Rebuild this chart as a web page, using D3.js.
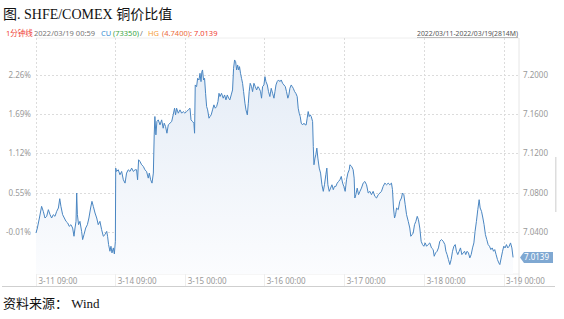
<!DOCTYPE html>
<html>
<head>
<meta charset="utf-8">
<script src="https://cdn.jsdelivr.net/npm/d3@7"></script>
<style>
  body { margin: 0; background: #fff; }
  svg { display: block; }
</style>
</head>
<body>
<div id="chart"></div>
<script>
// SHFE/COMEX copper price ratio, 1-minute bars, 2022/03/11 - 2022/03/19.

// minute index (trading minutes since 3-11 09:00)
const minuteIdx = [
  0, 8, 20, 33, 43, 53, 63, 73, 83, 92, 102, 112, 122, 132, 140, 147, 157, 167, 177, 187,
  196, 206, 216, 224, 230, 236, 240, 244, 251, 259, 269, 275, 283, 293, 303, 312, 322, 330, 338, 348,
  358, 367, 377, 387, 397, 407, 417, 422, 428, 436, 442, 448, 456, 462, 468, 470, 475, 485, 495, 505,
  515, 525, 534, 544, 554, 564, 574, 584, 593, 599, 605, 613, 623, 633, 642, 652, 662, 668, 676, 684,
  692, 697, 701, 707, 713, 721, 731, 741, 750, 756, 764, 772, 780, 790, 800, 809, 817, 823, 829, 839,
  849, 859, 868, 878, 888, 898, 908, 914, 923, 931, 935, 939, 947, 953, 961, 967, 973, 978, 982, 988,
  994, 1000, 1006, 1012, 1020, 1026, 1033, 1041, 1049, 1057, 1065, 1073, 1079, 1085, 1094, 1104, 1112, 1120, 1128, 1136,
  1143, 1151, 1159, 1165, 1171, 1177, 1183, 1189, 1195, 1200, 1206, 1212, 1218, 1224, 1232, 1238, 1246, 1252, 1257, 1263,
  1271, 1277, 1285, 1293, 1301, 1309, 1316, 1324, 1330, 1336, 1344, 1350, 1356, 1364, 1371, 1379, 1387, 1395, 1403, 1409,
  1415, 1422, 1430, 1438, 1446, 1454, 1462, 1470, 1477, 1485, 1491, 1497, 1505, 1511, 1517, 1525, 1532, 1540, 1546, 1552,
  1558, 1564, 1572, 1580, 1587, 1593, 1599, 1605, 1611, 1617, 1623, 1631, 1635, 1639, 1645, 1650, 1656, 1662, 1670, 1678,
  1686, 1694, 1701, 1709, 1715, 1721, 1729, 1737, 1745, 1753, 1760, 1768, 1776, 1784, 1792, 1800, 1808, 1815, 1823, 1831,
  1839, 1847, 1851, 1861, 1870, 1876, 1880, 1886, 1894, 1902, 1910, 1919, 1929, 1939, 1949, 1959, 1969, 1978, 1988, 1998,
  2008, 2018, 2028, 2037, 2047, 2057, 2067, 2077, 2086, 2096, 2102, 2108, 2114, 2120, 2126, 2136, 2145, 2155, 2161, 2169,
  2177, 2185, 2195, 2204, 2210, 2218, 2224, 2232, 2240, 2248, 2255, 2263, 2271, 2279, 2287, 2295, 2303, 2312, 2322, 2332,
  2342, 2348, 2356, 2365, 2373, 2381, 2391, 2401, 2411, 2417, 2424, 2432, 2440, 2448, 2456, 2464, 2472, 2479, 2487, 2495,
  2503, 2511, 2519, 2527, 2534, 2542, 2550, 2558, 2566, 2574, 2582, 2589, 2597, 2605, 2613, 2619, 2627, 2635, 2642, 2650,
  2658, 2666, 2674, 2682, 2690, 2698, 2705, 2713, 2721, 2729, 2735, 2743, 2751, 2758, 2766, 2774, 2782, 2790, 2798, 2806,
  2813
];

// SHFE CU / COMEX HG ratio at each minute above
const ratioVal = [
  7.0388, 7.0439, 7.0541, 7.0660, 7.0609, 7.0541, 7.0558, 7.0626, 7.0575, 7.0541, 7.0575, 7.0558, 7.0609, 7.0643, 7.0738, 7.0660, 7.0575, 7.0541, 7.0507, 7.0490,
  7.0456, 7.0473, 7.0439, 7.0355, 7.0439, 7.0507, 7.0796, 7.0575, 7.0473, 7.0507, 7.0405, 7.0321, 7.0372, 7.0439, 7.0473, 7.0541, 7.0643, 7.0711, 7.0660, 7.0592,
  7.0541, 7.0473, 7.0507, 7.0422, 7.0355, 7.0372, 7.0405, 7.0355, 7.0270, 7.0202, 7.0253, 7.0185, 7.0236, 7.0175, 7.0304, 7.1050, 7.1016, 7.1033, 7.0982, 7.1016,
  7.0931, 7.0897, 7.0999, 7.1033, 7.1016, 7.1050, 7.1016, 7.1033, 7.1033, 7.0931, 7.1135, 7.1118, 7.1084, 7.1067, 7.1033, 7.1016, 7.0948, 7.0999, 7.0931, 7.0897,
  7.0999, 7.1389, 7.1576, 7.1389, 7.1525, 7.1542, 7.1491, 7.1542, 7.1457, 7.1508, 7.1474, 7.1406, 7.1491, 7.1508, 7.1525, 7.1593, 7.1661, 7.1593, 7.1661, 7.1610,
  7.1644, 7.1610, 7.1627, 7.1610, 7.1627, 7.1644, 7.1661, 7.1542, 7.1525, 7.1508, 7.1406, 7.1898, 7.1881, 7.1966, 7.1949, 7.2017, 7.1932, 7.2034, 7.2051, 7.1949,
  7.1966, 7.1813, 7.1678, 7.1644, 7.1559, 7.1576, 7.1593, 7.1644, 7.1695, 7.1661, 7.1678, 7.1729, 7.1813, 7.1780, 7.1813, 7.1763, 7.1796, 7.1746, 7.1796, 7.1763,
  7.1746, 7.1796, 7.1847, 7.2068, 7.2153, 7.2136, 7.2051, 7.2102, 7.2051, 7.2085, 7.2017, 7.1966, 7.1915, 7.1830, 7.1712, 7.1644, 7.1593, 7.1712, 7.1830, 7.1915,
  7.1881, 7.1830, 7.1915, 7.1881, 7.1847, 7.1881, 7.1864, 7.1830, 7.1763, 7.1881, 7.1898, 7.1983, 7.1932, 7.1898, 7.1830, 7.1780, 7.1864, 7.1813, 7.1763, 7.1830,
  7.1898, 7.1932, 7.1949, 7.1932, 7.1949, 7.1915, 7.1898, 7.1881, 7.1830, 7.1763, 7.1796, 7.1864, 7.1898, 7.1881, 7.1864, 7.1830, 7.1813, 7.1780, 7.1661, 7.1610,
  7.1576, 7.1508, 7.1491, 7.1508, 7.1491, 7.1491, 7.1559, 7.1627, 7.1576, 7.1593, 7.1576, 7.1525, 7.1271, 7.1084, 7.1152, 7.1186, 7.1254, 7.1152, 7.1050, 7.0999,
  7.0880, 7.0813, 7.0880, 7.0982, 7.1050, 7.0880, 7.0813, 7.0846, 7.0880, 7.0830, 7.0863, 7.0863, 7.0897, 7.0914, 7.0931, 7.0965, 7.0897, 7.0863, 7.0813, 7.0931,
  7.0999, 7.1033, 7.1084, 7.1067, 7.1033, 7.0948, 7.0745, 7.0779, 7.0846, 7.0779, 7.0813, 7.0846, 7.0897, 7.0914, 7.0880, 7.0796, 7.0813, 7.0779, 7.0813, 7.0762,
  7.0745, 7.0779, 7.0796, 7.0813, 7.0863, 7.0897, 7.0880, 7.0897, 7.0880, 7.0897, 7.0830, 7.0643, 7.0541, 7.0575, 7.0643, 7.0626, 7.0711, 7.0745, 7.0796, 7.0779,
  7.0677, 7.0575, 7.0507, 7.0439, 7.0355, 7.0372, 7.0388, 7.0473, 7.0507, 7.0558, 7.0524, 7.0439, 7.0304, 7.0270, 7.0253, 7.0287, 7.0253, 7.0270, 7.0287, 7.0236,
  7.0219, 7.0151, 7.0185, 7.0202, 7.0236, 7.0304, 7.0321, 7.0304, 7.0270, 7.0202, 7.0168, 7.0117, 7.0066, 7.0117, 7.0202, 7.0253, 7.0270, 7.0202, 7.0168, 7.0202,
  7.0236, 7.0168, 7.0185, 7.0202, 7.0168, 7.0202, 7.0185, 7.0134, 7.0168, 7.0236, 7.0287, 7.0405, 7.0507, 7.0626, 7.0728, 7.0643, 7.0609, 7.0541, 7.0473, 7.0372,
  7.0321, 7.0270, 7.0253, 7.0219, 7.0236, 7.0202, 7.0219, 7.0168, 7.0117, 7.0083, 7.0066, 7.0134, 7.0202, 7.0253, 7.0236, 7.0270, 7.0236, 7.0253, 7.0287, 7.0236,
  7.0139
];

// ratio at which the left axis reads 0%
const baseRatio = 7.041;
const lastRatio = 7.0139;

const yTicks = [7.04, 7.08, 7.12, 7.16, 7.20];
const xTickIdx = [0, 467, 880, 1346, 1817, 2289, 2757];
const xTickLabels = ["3-11 09:00", "3-14 09:00", "3-15 00:00", "3-16 00:00",
                     "3-17 00:00", "3-18 00:00", "3-19 00:00"];

const width = 564, height = 319;
const plotL = 36, plotR = 519, plotT = 38, plotB = 274;
const uiFont = "'Noto Sans', 'Noto Sans CJK SC', sans-serif";
const serifFont = "'Liberation Serif', 'Noto Sans CJK SC', serif";

const svg = d3.select("#chart").append("svg")
    .attr("width", width)
    .attr("height", height);

const x = d3.scaleLinear().domain([0, 2848]).range([plotL, plotR]);
const y = d3.scaleLinear().domain([6.997, 7.2377]).range([plotB, plotT]);

const data = minuteIdx.map((m, i) => [m, ratioVal[i]]);

// gradient for the area under the line
const grad = svg.append("defs").append("linearGradient")
    .attr("id", "areaFill")
    .attr("x1", 0).attr("y1", 0).attr("x2", 0).attr("y2", 1);
grad.append("stop").attr("offset", "0%").attr("stop-color", "#e4ecf6");
grad.append("stop").attr("offset", "100%").attr("stop-color", "#fbfcfe");

// title
svg.append("text")
    .attr("x", 3).attr("y", 19)
    .attr("font-family", serifFont)
    .attr("font-size", 14)
    .attr("fill", "#111")
    .text("图. SHFE/COMEX 铜价比值");

// info line
const info = svg.append("text")
    .attr("y", 36)
    .attr("font-family", uiFont)
    .attr("font-size", 7.5);
const infoParts = [
  ["1分钟线", "#ef4136", 6],
  ["2022/03/19 00:59", "#777", 34],
  ["CU", "#3a8fd4", 101],
  ["(73350)", "#3aa545", 113],
  ["/", "#777", 140],
  ["HG", "#f5a03a", 148],
  ["(4.7400)", "#ec6c3c", 162],
  [": 7.0139", "#ef4136", 190]
];
infoParts.forEach(p => {
  info.append("tspan").attr("x", p[2]).attr("fill", p[1]).text(p[0]);
});

// range text, top right
svg.append("text")
    .attr("x", 417).attr("y", 36)
    .attr("font-family", uiFont)
    .attr("font-size", 7)
    .attr("fill", "#555")
    .attr("text-decoration", "underline")
    .attr("textLength", 101)
    .attr("lengthAdjust", "spacingAndGlyphs")
    .text("2022/03/11-2022/03/19(2814M)");

// frame
svg.append("line")
    .attr("x1", plotL).attr("x2", plotR).attr("y1", plotT).attr("y2", plotT)
    .attr("stroke", "#eeeeee");
svg.append("line")
    .attr("x1", plotL).attr("x2", plotR).attr("y1", plotB).attr("y2", plotB)
    .attr("stroke", "#eeeeee");
svg.append("line")
    .attr("x1", plotR).attr("x2", plotR).attr("y1", plotT).attr("y2", plotB + 12)
    .attr("stroke", "#e6e6e6");
svg.append("line")
    .attr("x1", 2).attr("x2", 555).attr("y1", 286.5).attr("y2", 286.5)
    .attr("stroke", "#cfcfcf");

// grid
svg.append("g").selectAll("line")
    .data(yTicks)
    .join("line")
    .attr("x1", plotL).attr("x2", plotR)
    .attr("y1", d => Math.round(y(d)) + 0.5).attr("y2", d => Math.round(y(d)) + 0.5)
    .attr("stroke", "#dcdcdc")
    .attr("stroke-dasharray", "2,2");
svg.append("g").selectAll("line")
    .data(xTickIdx)
    .join("line")
    .attr("x1", d => Math.round(x(d)) + 0.5).attr("x2", d => Math.round(x(d)) + 0.5)
    .attr("y1", plotT).attr("y2", plotB)
    .attr("stroke", "#dcdcdc")
    .attr("stroke-dasharray", "2,2");
svg.append("g").selectAll("line")
    .data(xTickIdx)
    .join("line")
    .attr("x1", d => Math.round(x(d)) + 0.5).attr("x2", d => Math.round(x(d)) + 0.5)
    .attr("y1", plotB).attr("y2", 286)
    .attr("stroke", "#eeeeee");

// area and line
svg.append("path")
    .datum(data)
    .attr("d", d3.area().x(d => x(d[0])).y0(plotB).y1(d => y(d[1])))
    .attr("fill", "url(#areaFill)");
svg.append("path")
    .datum(data)
    .attr("d", d3.line().x(d => x(d[0])).y(d => y(d[1])))
    .attr("fill", "none")
    .attr("stroke", "#4a86c2")
    .attr("stroke-width", 1);

// left axis: percent change from base ratio
const axisText = g => g.selectAll("text")
    .attr("font-family", uiFont)
    .attr("font-size", 8)
    .attr("fill", "#999");

svg.append("g")
    .attr("transform", `translate(${plotL - 2},0)`)
    .call(d3.axisLeft(y).tickValues(yTicks).tickSize(0)
        .tickFormat(d => ((d / baseRatio - 1) * 100).toFixed(2) + "%"))
    .call(g => g.select(".domain").remove())
    .call(axisText);

// right axis: ratio
svg.append("g")
    .attr("transform", `translate(${plotR + 1},0)`)
    .call(d3.axisRight(y).tickValues(yTicks).tickSize(0)
        .tickFormat(d3.format(".4f")))
    .call(g => g.select(".domain").remove())
    .call(axisText);

// bottom axis labels, left-aligned at their gridline
svg.append("g")
    .attr("transform", `translate(0,${plotB})`)
    .call(d3.axisBottom(x).tickValues(xTickIdx).tickSize(0)
        .tickFormat((d, i) => xTickLabels[i]))
    .call(g => g.select(".domain").remove())
    .call(axisText)
    .call(g => g.selectAll("text").attr("text-anchor", "start").attr("dx", 2).attr("dy", "0.9em"));

// last value tag
const yl = y(lastRatio);
svg.append("path")
    .attr("d", `M${plotR + 1},${yl} L${plotR + 5},${yl - 5.5} L${plotR + 34},${yl - 5.5} L${plotR + 34},${yl + 5.5} L${plotR + 5},${yl + 5.5} Z`)
    .attr("fill", "#7fa8d2");
svg.append("text")
    .attr("x", plotR + 5).attr("y", yl + 3)
    .attr("font-family", uiFont)
    .attr("font-size", 8)
    .attr("fill", "#fff")
    .text(d3.format(".4f")(lastRatio));

// side scroll bar
svg.append("rect")
    .attr("x", 555).attr("y", 157).attr("width", 1.5).attr("height", 55)
    .attr("fill", "#dddddd");

// source
svg.append("text")
    .attr("x", 3).attr("y", 308)
    .attr("font-family", serifFont)
    .attr("font-size", 13)
    .attr("fill", "#111")
    .text("资料来源： Wind");
</script>
</body>
</html>
